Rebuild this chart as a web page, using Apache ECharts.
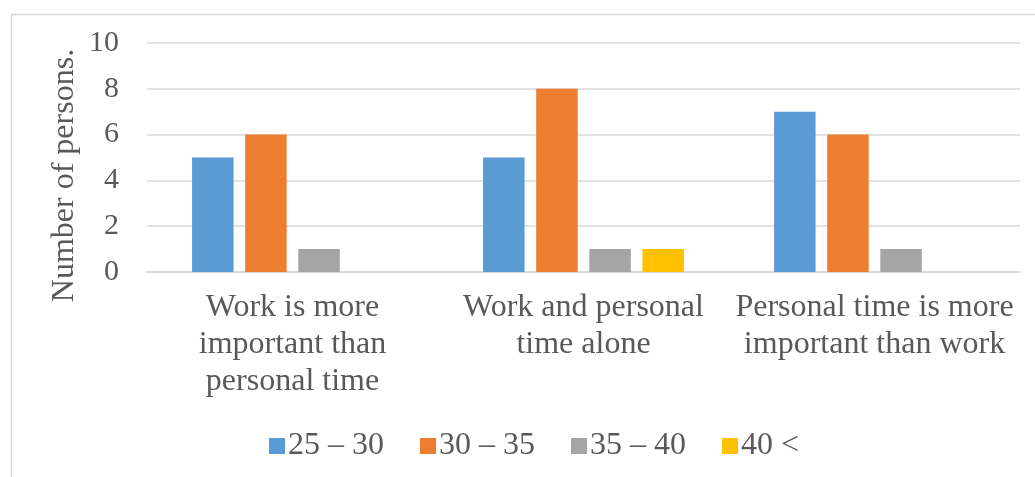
<!DOCTYPE html>
<html>
<head>
<meta charset="utf-8">
<script src="https://cdn.jsdelivr.net/npm/echarts@6/dist/echarts.min.js"></script>
<style>html,body{margin:0;padding:0;background:#fff}#c{width:1035px;height:477px}</style>
</head>
<body>
<div id="c"></div>
<script>
const categories = ['Work is more\nimportant than\npersonal time', 'Work and personal\ntime alone', 'Personal time is more\nimportant than work'];
const seriesNames = ['25 \u2013 30', '30 \u2013 35', '35 \u2013 40', '40 <'];
const s2530 = [5, 5, 7];
const s3035 = [6, 8, 6];
const s3540 = [1, 1, 1];
const s40 = [0, 1, 0];
const yTicks = [0, 2, 4, 6, 8, 10];
const colors = ['#5B9BD5', '#ED7D31', '#A5A5A5', '#FFC000'];
const FONT = '"Liberation Serif", "Times New Roman", serif';

const chart = echarts.init(document.getElementById('c'), null, {renderer: 'canvas'});
const values = [s2530, s3035, s3540, s40];
chart.setOption({
  animation: false,
  color: colors,
  textStyle: {fontFamily: FONT, color: '#595959'},
  graphic: [{
    type: 'rect', left: 9, top: 12, z: -1,
    shape: {width: 1200, height: 600},
    style: {fill: 'none', stroke: '#d9d9d9', lineWidth: 1.5}
  }],
  grid: {left: 147, right: 15, top: 43, bottom: 205},
  legend: {
    left: 264, top: 425, itemWidth: 16, itemHeight: 16, itemGap: 36,
    icon: 'rect',
    textStyle: {fontFamily: FONT, fontSize: 32, color: '#595959', padding: [0, 0, 0, -2]},
    data: seriesNames
  },
  xAxis: {
    type: 'category', data: categories,
    axisLine: {lineStyle: {color: '#d9d9d9', width: 1.5}},
    axisTick: {show: false},
    axisLabel: {fontFamily: FONT, fontSize: 32, color: '#595959', lineHeight: 37, margin: 17, interval: 0}
  },
  yAxis: {
    type: 'value', min: 0, max: yTicks[yTicks.length - 1], interval: 2,
    name: 'Number of persons.', nameLocation: 'middle', nameGap: 66,
    nameMoveOverlap: false,
    nameTextStyle: {fontFamily: FONT, fontSize: 32, color: '#595959', padding: [0, 36, 0, 0]},
    axisLine: {show: false}, axisTick: {show: false},
    axisLabel: {fontFamily: FONT, fontSize: 30, color: '#595959', margin: 28},
    splitLine: {lineStyle: {color: '#d9d9d9', width: 1.5}}
  },
  series: seriesNames.map((n, i) => ({
    name: n, type: 'bar', data: values[i],
    barWidth: 41.5, barGap: '28%',
    itemStyle: {color: colors[i]}
  }))
});
</script>
</body>
</html>
